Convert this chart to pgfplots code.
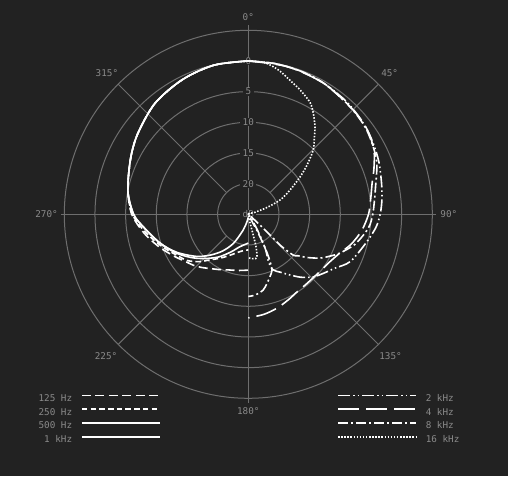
\documentclass[border=0pt]{standalone}
\usepackage{fontspec}
\setmonofont{DejaVu Sans Mono}
\usepackage{pgfplots}
\usepackage{pgfplotstable}
\usepgfplotslibrary{polar}
\pgfplotsset{compat=1.18}
\definecolor{bg}{HTML}{222222}
\definecolor{gridc}{HTML}{6E6E6E}
\definecolor{txt}{HTML}{8A8A8A}
\newcommand\lblfont{\ttfamily\fontsize{9.3}{11}\selectfont}

% compass angle (deg, clockwise from top), level (dB)
\pgfplotstableread{
a db
360 0
347 -0.05
334 -0.55
320 -1.35
306 -2.7
295 -3.8
281 -5.0
270 -6.0
260 -7.7
250 -9.5
240 -11.2
233 -12.2
227 -12.8
221 -13.5
215 -14.2
208 -14.8
201 -15.3
190 -15.7
180 -15.9
}\tA
\pgfplotstableread{
a db
360 0
347 -0.05
334 -0.55
320 -1.35
306 -2.7
295 -3.8
281 -5.0
270 -6.1
260 -8.0
250 -9.9
242 -11.3
233 -12.5
226 -13.9
220 -15.3
212 -16.6
204 -17.7
195 -18.6
188 -19.0
180 -19.2
}\tB
\pgfplotstableread{
a db
360 0
347 -0.05
334 -0.55
320 -1.35
306 -2.7
295 -3.8
281 -5.0
270 -6.3
263 -7.8
252 -9.85
242 -11.6
233 -13.3
225 -14.8
215 -16.5
205 -18.2
195 -19.5
180 -20.3
}\tC
\pgfplotstableread{
a db
360 0
347 -0.05
334 -0.55
320 -1.35
306 -2.7
295 -3.8
281 -5.0
270 -6.3
263 -7.8
252 -9.85
242 -11.8
231 -14.1
223 -15.9
215 -17.7
207 -19.7
198 -22.3
190 -23.8
180 -24.5
}\tD
\pgfplotstableread{
a db
0 0
10 -0.05
20 -0.15
30 -0.35
40 -0.6
46 -0.85
53 -1.15
60 -1.55
68 -2.05
77 -2.7
84 -3.1
90 -3.5
96 -4.1
104 -5.3
115 -6.7
122 -8.4
128 -9.4
134 -10.3
140 -11.6
145.5 -13.0
151 -14.2
156 -15.1
157 -16.5
154 -18.5
152 -20.3
150 -22.0
145 -24.0
140 -25
}\tE
\pgfplotstableread{
a db
0 0
15 -0.1
30 -0.35
43 -0.85
50 -1.0
56 -1.3
63 -2.0
70 -3.2
76 -4.2
83 -4.9
90 -5.4
98 -6.3
106 -7.5
113 -8.8
120 -9.6
127 -10.0
134.6 -10.2
141 -10.2
148 -10.05
155 -9.6
163 -9.0
171 -8.5
180 -8.1
}\tF
\pgfplotstableread{
a db
0 0
10 -0.05
20 -0.15
30 -0.35
43 -0.85
54.5 -1.3
67 -2.3
79 -3.9
85 -4.4
90 -4.7
95 -5.1
99 -5.7
106 -7.0
113 -8.8
117 -10.0
121.4 -11.3
126 -13.0
130 -14.5
132.3 -15.1
134 -17.5
133.8 -19.4
133 -21.5
131.5 -24.0
131 -25
152 -22.0
153 -20.0
154 -18.0
155.5 -16.3
157 -15.1
161 -14.2
165 -13.3
169 -12.4
175 -11.8
180 -11.6
}\tG
\pgfplotstableread{
a db
0 0
3 -0.05
6.9 -0.2
12 -1.0
17.2 -2.1
23 -3.1
29 -4.2
33 -5.5
37.4 -7.1
41 -8.6
45.3 -10.1
50 -12.5
54.2 -14.6
60 -17.2
65.7 -19.3
70 -21.8
74.5 -24.2
77 -25
167 -22.4
166.5 -19.8
168.5 -17.9
173 -17.7
180 -17.9
}\tH

\tikzset{
  cv/.style={white, line width=1.6pt},
  s125/.style={cv, dash pattern=on 9pt off 4.5pt},
  s250/.style={cv, dash pattern=on 5.5pt off 3.2pt},
  s500/.style={cv},
  s1k/.style={cv},
  s2k/.style={cv, dash pattern=on 12pt off 3pt on 1.5pt off 3pt on 1.5pt off 3pt},
  s4k/.style={cv, dash pattern=on 21pt off 7pt},
  s8k/.style={cv, dash pattern=on 10pt off 3pt on 2pt off 3pt},
  s16k/.style={cv, dash pattern=on 1.5pt off 1.6pt},
  gl/.style={gridc, line width=1pt},
  lb/.style={text=txt, font=\lblfont, inner sep=1pt},
  rl/.style={lb, fill=bg, inner xsep=2.5pt, inner ysep=0.5pt},
}

\begin{document}
\begin{tikzpicture}
\fill[bg] (0pt,0pt) rectangle (508pt,476pt);
\useasboundingbox (0pt,0pt) rectangle (508pt,476pt);
\begin{polaraxis}[
  at={(248.3pt,261.7pt)}, anchor=center,
  scale only axis, width=368pt, height=368pt,
  xmin=0, xmax=360, ymin=0, ymax=30,
  xtick=\empty, ytick={5,10,15,20,25},
  yticklabels={}, yticklabel style={opacity=0},
  ymajorgrids,
  major grid style={gl},
  axis line style={gl},
  major tick length=0pt,
  clip=false,
]
% spokes
\draw[gl] (axis cs:90,30.8) -- (axis cs:270,30.8);
\draw[gl] (axis cs:0,30.6) -- (axis cs:180,30.6);
\draw[gl] (axis cs:45,5) -- (axis cs:45,30);
\draw[gl] (axis cs:135,5) -- (axis cs:135,30);
\draw[gl] (axis cs:225,5) -- (axis cs:225,30);
\draw[gl] (axis cs:315,5) -- (axis cs:315,30);
% angle labels
\node[lb] at (axis cs:90,32.2) {0°};
\node[lb] at (axis cs:45,32.6) {45°};
\node[lb] at (axis cs:0,32.7) {90°};
\node[lb] at (axis cs:-45,32.8) {135°};
\node[lb] at (axis cs:-90,32.1) {180°};
\node[lb] at (axis cs:-135,32.8) {225°};
\node[lb] at (axis cs:180,32.9) {270°};
\node[lb] at (axis cs:135,32.6) {315°};
% ring labels
\node[rl] at (axis cs:90,25) {0};
\node[rl] at (axis cs:90,20) {5};
\node[rl] at (axis cs:90,15) {10};
\node[rl] at (axis cs:90,10) {15};
\node[rl] at (axis cs:90,5) {20};
\node[rl] at (axis cs:0,0) {dB};
% curves
\addplot[s125, smooth] table[x expr=90-\thisrow{a}, y expr=\thisrow{db}+25] {\tA};
\addplot[s250, smooth] table[x expr=90-\thisrow{a}, y expr=\thisrow{db}+25] {\tB};
\addplot[s500, smooth] table[x expr=90-\thisrow{a}, y expr=\thisrow{db}+25] {\tC};
\addplot[s1k, smooth] table[x expr=90-\thisrow{a}, y expr=\thisrow{db}+25] {\tD};
\addplot[s2k, smooth] table[x expr=90-\thisrow{a}, y expr=\thisrow{db}+25] {\tE};
\addplot[s4k, smooth] table[x expr=90-\thisrow{a}, y expr=\thisrow{db}+25] {\tF};
\addplot[s8k, smooth] table[x expr=90-\thisrow{a}, y expr=\thisrow{db}+25] {\tG};
\addplot[s16k, smooth] table[x expr=90-\thisrow{a}, y expr=\thisrow{db}+25] {\tH};
\end{polaraxis}

% left legend
\begin{axis}[
  at={(0pt,0pt)}, anchor=south west, scale only axis,
  width=508pt, height=476pt, xmin=0, xmax=1, ymin=0, ymax=1,
  hide axis,
  legend plot pos=right, legend cell align=right,
  legend image code/.code={\draw[#1] (0pt,3.4pt) -- (78pt,3.4pt);},
  legend style={at={(161/508,82/476)}, anchor=north east, draw=none, fill=none,
    inner sep=0pt, row sep=4.8pt, column sep=9pt, font=\lblfont, text=txt,
    nodes={inner sep=0pt, text height=7pt, text depth=2pt}},
]
\addplot[draw=none, forget plot] coordinates {(0,0)};
\addlegendimage{s125}\addlegendentry{125 Hz}
\addlegendimage{s250}\addlegendentry{250 Hz}
\addlegendimage{s500}\addlegendentry{500 Hz}
\addlegendimage{s1k}\addlegendentry{1 kHz}
\end{axis}

% right legend
\begin{axis}[
  at={(0pt,0pt)}, anchor=south west, scale only axis,
  width=508pt, height=476pt, xmin=0, xmax=1, ymin=0, ymax=1,
  hide axis,
  legend plot pos=left, legend cell align=left,
  legend image code/.code={\draw[#1] (0pt,3.4pt) -- (78pt,3.4pt);},
  legend style={at={(337/508,82/476)}, anchor=north west, draw=none, fill=none,
    inner sep=0pt, row sep=4.8pt, column sep=9pt, font=\lblfont, text=txt,
    nodes={inner sep=0pt, text height=7pt, text depth=2pt}},
]
\addplot[draw=none, forget plot] coordinates {(0,0)};
\addlegendimage{s2k}\addlegendentry{2 kHz}
\addlegendimage{s4k}\addlegendentry{4 kHz}
\addlegendimage{s8k}\addlegendentry{8 kHz}
\addlegendimage{s16k}\addlegendentry{16 kHz}
\end{axis}
\end{tikzpicture}
\end{document}
